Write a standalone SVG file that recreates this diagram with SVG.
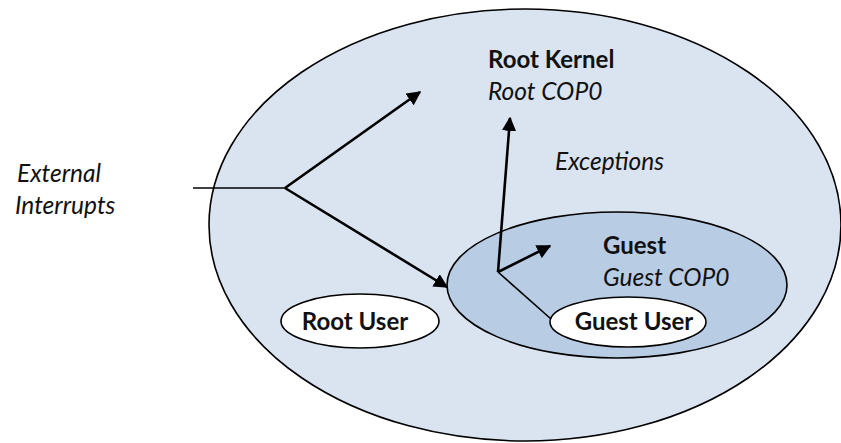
<svg xmlns="http://www.w3.org/2000/svg" width="841" height="443" viewBox="0 0 841 443">
<defs>
<marker id="ah" viewBox="0 0 10 10" refX="9" refY="5" markerWidth="5.5" markerHeight="5.5" orient="auto" markerUnits="strokeWidth">
<path d="M0,0 L10,5 L0,10 z" fill="#000"/>
</marker>
<style>
.e{stroke:#000;stroke-width:1.6}
.t{font-family:Lato,"Open Sans",sans-serif;font-size:24px;fill:#111}
.b{font-weight:bold}
.i{font-style:italic;font-size:24.5px}
.a{fill:none;stroke:#000;stroke-width:2.6;marker-end:url(#ah)}
.l{fill:none;stroke:#000;stroke-width:1.6}
</style>
</defs>
<rect width="841" height="443" fill="#fff"/>
<g id="root">
<ellipse class="e" cx="525" cy="225" rx="316" ry="216" fill="#dae3f0"/>
<text class="t b" x="488" y="68">Root Kernel</text>
<text class="t i" x="488" y="100">Root COP0</text>
</g>
<g id="guest">
<ellipse class="e" cx="617" cy="285" rx="170" ry="73" fill="#b8cce4"/>
<text class="t b" x="603" y="254">Guest</text>
<text class="t i" x="603" y="286">Guest COP0</text>
</g>
<g id="root-user">
<ellipse class="e" cx="360" cy="321" rx="79" ry="27" fill="#fff"/>
<text class="t b" x="355" y="330" text-anchor="middle">Root User</text>
</g>
<g id="guest-user">
<ellipse class="e" cx="628" cy="322" rx="78" ry="25" fill="#fff"/>
<text class="t b" x="634" y="330" text-anchor="middle">Guest User</text>
</g>
<g id="labels">
<text class="t i" x="17" y="182">External</text>
<text class="t i" x="15" y="214">Interrupts</text>
<text class="t i" x="555" y="170">Exceptions</text>
</g>
<g id="connectors">
<path class="l" d="M193,188 L285,188"/>
<path class="a" d="M285,188 L420,92"/>
<path class="a" d="M285,188 L447,287"/>
<path class="a" d="M498,272 L510,118"/>
<path class="a" d="M498,272 L550,246"/>
<path class="l" d="M498,272 L551,319"/>
</g>
</svg>
